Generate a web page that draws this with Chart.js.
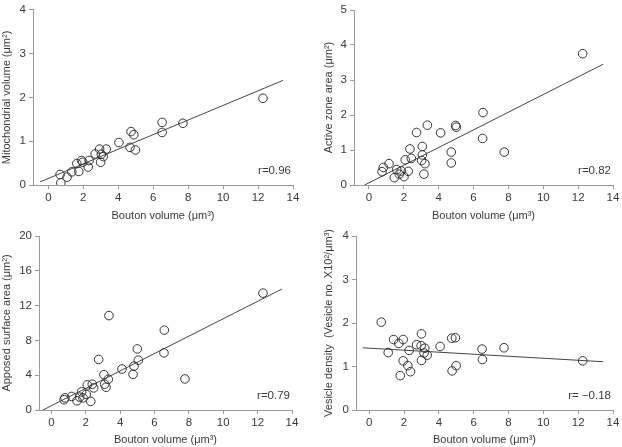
<!DOCTYPE html>
<html>
<head>
<meta charset="utf-8">
<script src="https://cdn.jsdelivr.net/npm/chart.js@4/dist/chart.umd.min.js"></script>
<style>
  body { margin: 0; background: #fff; }
  #wrap { position: relative; width: 622px; height: 447px; }
  canvas { position: absolute; }
</style>
</head>
<body>
<div id="wrap">
  <canvas id="c1" width="311" height="223" style="left:0;top:0"></canvas>
  <canvas id="c2" width="311" height="223" style="left:311px;top:0"></canvas>
  <canvas id="c3" width="311" height="224" style="left:0;top:223px"></canvas>
  <canvas id="c4" width="311" height="224" style="left:311px;top:223px"></canvas>
</div>
<script>
// shared x axis
const xTicks = [0, 2, 4, 6, 8, 10, 12, 14];
const xTitle = "Bouton volume (μm³)";

// mitochondrial volume
const mitoX = [0.67, 0.71, 1.07, 1.34, 1.63, 1.74, 1.90, 1.97, 2.28, 2.33, 2.68, 2.93, 2.99, 3.03, 3.14, 3.31, 4.04, 4.67, 4.73, 4.89, 4.98, 6.51, 6.51, 7.70, 12.28];
const mitoY = [0.24, 0.05, 0.18, 0.30, 0.49, 0.31, 0.56, 0.52, 0.41, 0.56, 0.71, 0.82, 0.52, 0.70, 0.65, 0.82, 0.97, 0.86, 1.22, 1.15, 0.80, 1.43, 1.20, 1.41, 1.98];
const mitoFitX = [-0.48, 13.43];
const mitoFitY = [0.07, 2.39];
const mitoTicks = [0, 1, 2, 3, 4];

// active zone area
const azX = [0.75, 0.82, 1.15, 1.45, 1.59, 1.74, 1.85, 2.01, 2.08, 2.25, 2.35, 2.43, 2.73, 3.06, 3.06, 3.02, 3.15, 3.21, 3.35, 4.11, 4.72, 4.72, 4.97, 5.01, 6.54, 6.52, 7.76, 12.26];
const azY = [0.38, 0.50, 0.61, 0.21, 0.44, 0.31, 0.40, 0.24, 0.72, 0.39, 1.03, 0.76, 1.50, 1.10, 0.86, 0.70, 0.31, 0.61, 1.71, 1.49, 0.94, 0.63, 1.70, 1.65, 2.07, 1.33, 0.94, 3.75];
const azFitX = [-0.25, 13.43];
const azFitY = [0.0, 3.45];
const azTicks = [0, 1, 2, 3, 4, 5];

// apposed surface area
const asaX = [0.74, 0.79, 1.18, 1.49, 1.65, 1.76, 1.84, 2.03, 2.09, 2.29, 2.38, 2.46, 2.75, 3.06, 3.10, 3.18, 3.31, 3.35, 4.11, 4.75, 4.81, 5.00, 5.06, 6.55, 6.57, 7.77, 12.31];
const asaY = [1.18, 1.40, 1.56, 1.06, 1.48, 2.09, 1.40, 1.78, 2.88, 0.99, 2.96, 2.54, 5.81, 4.06, 2.96, 2.62, 3.53, 10.85, 4.71, 4.10, 5.05, 7.02, 5.73, 6.57, 9.18, 3.57, 13.43];
const asaFitX = [-0.49, 13.41];
const asaFitY = [0.0, 13.9];
const asaTicks = [0, 4, 8, 12, 16, 20];

// vesicle density
const vdX = [0.69, 1.09, 1.40, 1.70, 1.78, 1.95, 1.95, 2.22, 2.29, 2.37, 2.72, 2.98, 3.00, 3.00, 3.15, 3.19, 3.33, 4.07, 4.74, 4.76, 4.95, 4.99, 6.48, 6.50, 7.74, 12.26];
const vdY = [2.02, 1.32, 1.62, 1.53, 0.79, 1.62, 1.13, 1.02, 1.37, 0.88, 1.50, 1.48, 1.75, 1.14, 1.31, 1.42, 1.26, 1.46, 1.65, 0.90, 1.66, 1.02, 1.40, 1.16, 1.43, 1.13];
const vdFitX = [-0.38, 13.43];
const vdFitY = [1.43, 1.11];
const vdTicks = [0, 1, 2, 3, 4];

Chart.defaults.font.family = "'Liberation Sans Narrow', 'Arial Narrow', 'Liberation Sans', Arial, sans-serif";
Chart.defaults.font.size = 11;
const textColor = "#3a3a3a";
const axisColor = "#999";

const rLabel = {
    id: "rLabel",
    afterDraw(chart, args, opts) {
        const ctx = chart.ctx;
        const a = chart.chartArea;
        ctx.save();
        ctx.fillStyle = textColor;
        ctx.font = "11.5px " + Chart.defaults.font.family;
        ctx.textAlign = "right";
        ctx.textBaseline = "middle";
        ctx.fillText(opts.text, a.right - 2, a.bottom - 14);
        ctx.restore();
    }
};

function toPts(xs, ys) {
    return xs.map((x, i) => ({ x: x, y: ys[i] }));
}

function makePanel(id, p) {
    new Chart(document.getElementById(id).getContext("2d"), {
        type: "scatter",
        data: {
            datasets: [{
                data: toPts(p.xs, p.ys),
                pointRadius: 4.3,
                pointBorderWidth: 1,
                borderColor: "#333",
                backgroundColor: "rgba(0,0,0,0)"
            }, {
                data: toPts(p.fitX, p.fitY),
                showLine: true,
                pointRadius: 0,
                borderColor: "#444",
                borderWidth: 1,
                fill: false
            }]
        },
        options: {
            responsive: false,
            animation: false,
            events: [],
            layout: { padding: { top: p.top, right: p.right, left: p.left, bottom: 0 } },
            plugins: {
                legend: { display: false },
                tooltip: { enabled: false },
                rLabel: { text: p.r }
            },
            scales: {
                x: {
                    type: "linear",
                    min: p.xMin,
                    max: 14,
                    afterBuildTicks: s => { s.ticks = xTicks.map(v => ({ value: v })); },
                    afterFit: s => { s.height = p.xH; },
                    grid: { drawOnChartArea: false, tickLength: 4, color: axisColor },
                    border: { color: axisColor },
                    ticks: { color: textColor, padding: 2, maxRotation: 0, font: { size: 11.5 } },
                    title: { display: true, text: xTitle, color: textColor, padding: 0 }
                },
                y: {
                    type: "linear",
                    min: 0,
                    max: p.yTicks[p.yTicks.length - 1],
                    afterBuildTicks: s => { s.ticks = p.yTicks.map(v => ({ value: v })); },
                    afterFit: s => { s.width = p.yW; },
                    grid: { drawOnChartArea: false, tickLength: 4, color: axisColor },
                    border: { color: axisColor },
                    ticks: { color: textColor, padding: 3, font: { size: 11.5 } },
                    title: { display: true, text: p.yTitle, color: textColor, padding: 0 }
                }
            }
        },
        plugins: [rLabel]
    });
}

makePanel("c1", { xs: mitoX, ys: mitoY, fitX: mitoFitX, fitY: mitoFitY, yTicks: mitoTicks,
    yTitle: "Mitochondrial volume (μm²)", r: "r=0.96",
    xMin: -0.88, top: 9, right: 18, left: 0, xH: 38, yW: 33 });
makePanel("c2", { xs: azX, ys: azY, fitX: azFitX, fitY: azFitY, yTicks: azTicks,
    yTitle: "Active zone area (μm²)", r: "r=0.82",
    xMin: -0.86, top: 10, right: 9, left: 11, xH: 38, yW: 32 });
makePanel("c3", { xs: asaX, ys: asaY, fitX: asaFitX, fitY: asaFitY, yTicks: asaTicks,
    yTitle: "Apposed surface area (μm²)", r: "r=0.79",
    xMin: -0.72, top: 13, right: 19, left: 0, xH: 37, yW: 39 });
makePanel("c4", { xs: vdX, ys: vdY, fitX: vdFitX, fitY: vdFitY, yTicks: vdTicks,
    yTitle: "Vesicle density  (Vesicle no. X10²/μm³)", r: "r= −0.18",
    xMin: -0.76, top: 13, right: 9, left: 11, xH: 37, yW: 34 });
</script>
</body>
</html>
